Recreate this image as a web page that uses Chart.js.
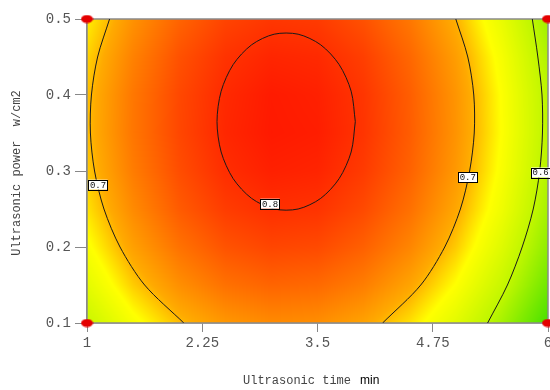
<!DOCTYPE html>
<html><head><meta charset="utf-8">
<script src="https://cdn.jsdelivr.net/npm/chart.js@4.4.1/dist/chart.umd.min.js"></script>
<style>html,body{margin:0;padding:0;background:#fff}#wrap{width:550px;height:390px;position:relative}</style>
</head><body><div id="wrap"><canvas id="c" width="550" height="390"></canvas></div>
<script>
// ---- data ----
const xTicks = [1, 2.25, 3.5, 4.75, 6];
const yTicks = [0.1, 0.2, 0.3, 0.4, 0.5];
const xTitle = 'Ultrasonic time';
const xUnit = 'min';
const yTitle = 'Ultrasonic power  w/cm2';

// response surface sampled on a grid (rows bottom -> top)
const gridX = [1, 1.5, 2, 2.5, 3, 3.5, 4, 4.5, 5, 5.5, 6];
const gridY = [0.1, 0.15, 0.2, 0.25, 0.3, 0.35, 0.4, 0.45, 0.5];
const gridZ = [
  [0.611, 0.660, 0.697, 0.720, 0.730, 0.727, 0.711, 0.681, 0.638, 0.582, 0.512],
  [0.640, 0.690, 0.726, 0.750, 0.760, 0.756, 0.740, 0.710, 0.667, 0.611, 0.542],
  [0.663, 0.713, 0.749, 0.773, 0.783, 0.780, 0.763, 0.734, 0.691, 0.634, 0.565],
  [0.680, 0.730, 0.767, 0.790, 0.800, 0.797, 0.780, 0.751, 0.708, 0.652, 0.582],
  [0.691, 0.741, 0.777, 0.801, 0.811, 0.808, 0.791, 0.762, 0.719, 0.662, 0.593],
  [0.696, 0.746, 0.782, 0.806, 0.816, 0.813, 0.796, 0.766, 0.723, 0.667, 0.598],
  [0.695, 0.745, 0.781, 0.804, 0.815, 0.811, 0.795, 0.765, 0.722, 0.666, 0.597],
  [0.687, 0.737, 0.774, 0.797, 0.807, 0.804, 0.788, 0.758, 0.715, 0.659, 0.589],
  [0.674, 0.724, 0.760, 0.784, 0.794, 0.791, 0.774, 0.745, 0.702, 0.645, 0.576]
];

// contour lines
const c08X = [3.91, 3.865, 3.735, 3.535, 3.29, 3.03, 2.785, 2.585, 2.455, 2.41, 2.455, 2.585, 2.785, 3.03, 3.29, 3.535, 3.735, 3.865, 3.91];
const c08Y = [0.365, 0.405, 0.44, 0.466, 0.48, 0.48, 0.466, 0.44, 0.405, 0.365, 0.325, 0.29, 0.264, 0.25, 0.25, 0.264, 0.29, 0.325, 0.365];
const contourY = [0.1, 0.15, 0.2, 0.25, 0.3, 0.35, 0.4, 0.45, 0.5];
const c07LeftX = [2.05, 1.625, 1.358, 1.184, 1.082, 1.037, 1.048, 1.115, 1.245];
const c07RightX = [4.206, 4.62, 4.88, 5.05, 5.15, 5.2, 5.195, 5.13, 5.0];
const c06X = [5.345, 5.56, 5.72, 5.84, 5.91, 5.94, 5.935, 5.89, 5.83];

// contour labels
const labelText = ['0.8', '0.7', '0.7', '0.6'];
const labelX = [2.985, 1.12, 5.13, 5.92];
const labelY = [0.257, 0.282, 0.292, 0.298];

// design points
const designX = [1, 1, 6, 6];
const designY = [0.1, 0.5, 0.1, 0.5];

// ---- helpers ----
const pts = (xs, ys) => xs.map((v, i) => ({x: v, y: ys[i]}));

function bilinear(vx, vy) {
  let i = 0; while (i < gridX.length - 2 && vx > gridX[i + 1]) i++;
  let j = 0; while (j < gridY.length - 2 && vy > gridY[j + 1]) j++;
  let tx = (vx - gridX[i]) / (gridX[i + 1] - gridX[i]);
  let ty = (vy - gridY[j]) / (gridY[j + 1] - gridY[j]);
  tx = Math.max(0, Math.min(1, tx)); ty = Math.max(0, Math.min(1, ty));
  const a = gridZ[j][i], b = gridZ[j][i + 1], c = gridZ[j + 1][i], d = gridZ[j + 1][i + 1];
  return (a * (1 - tx) + b * tx) * (1 - ty) + (c * (1 - tx) + d * tx) * ty;
}
const stops = [[0.50, [55, 222, 0]], [0.60, [190, 246, 0]], [0.668, [255, 255, 0]], [0.705, [255, 170, 0]], [0.76, [255, 100, 0]], [0.82, [255, 20, 0]]];
function colorFor(z) {
  if (z <= stops[0][0]) return stops[0][1];
  for (let k = 0; k < stops.length - 1; k++) {
    const [z0, c0] = stops[k], [z1, c1] = stops[k + 1];
    if (z <= z1) { const t = (z - z0) / (z1 - z0); return c0.map((v, n) => v + (c1[n] - v) * t); }
  }
  return stops[stops.length - 1][1];
}

const dot = document.createElement('canvas');
dot.width = 13; dot.height = 9;
(() => { const g = dot.getContext('2d'); g.fillStyle = '#e40000'; g.beginPath(); g.ellipse(6.5, 4.5, 6, 4, 0, 0, Math.PI * 2); g.fill(); })();

const heatPlugin = {
  id: 'heat',
  beforeDatasetsDraw(chart) {
    const {ctx, chartArea: a, scales: {x, y}} = chart;
    const x0 = Math.round(a.left), y0 = Math.round(a.top);
    const w = Math.round(a.right) - x0, h = Math.round(a.bottom) - y0;
    const img = ctx.createImageData(w, h);
    for (let j = 0; j < h; j++) {
      const vy = y.getValueForPixel(y0 + j + 0.5);
      for (let i = 0; i < w; i++) {
        const vx = x.getValueForPixel(x0 + i + 0.5);
        const c = colorFor(bilinear(vx, vy));
        const p = (j * w + i) * 4;
        img.data[p] = c[0]; img.data[p + 1] = c[1]; img.data[p + 2] = c[2]; img.data[p + 3] = 255;
      }
    }
    ctx.putImageData(img, x0, y0);
    ctx.save();
    ctx.strokeStyle = '#8a8a8a'; ctx.lineWidth = 1.5;
    ctx.strokeRect(a.left, a.top, a.right - a.left, a.bottom - a.top);
    ctx.restore();
  },
  afterDatasetsDraw(chart) {
    const {ctx, scales: {x, y}} = chart;
    ctx.save();
    ctx.font = '9px "Liberation Mono"';
    ctx.textAlign = 'center'; ctx.textBaseline = 'middle';
    labelText.forEach((t, i) => {
      const px = x.getPixelForValue(labelX[i]), py = y.getPixelForValue(labelY[i]);
      const tw = ctx.measureText(t).width + 3, th = 10;
      ctx.fillStyle = '#fff'; ctx.fillRect(px - tw / 2, py - th / 2, tw, th);
      ctx.strokeStyle = '#000'; ctx.lineWidth = 1;
      ctx.strokeRect(Math.round(px - tw / 2) + 0.5, Math.round(py - th / 2) + 0.5, Math.round(tw), th);
      ctx.fillStyle = '#111'; ctx.fillText(t, px, py + 0.5);
    });
    ctx.restore();
  },
  afterDraw(chart) {
    const {ctx, chartArea: a} = chart;
    ctx.save();
    ctx.textBaseline = 'middle';
    ctx.font = '12px "Liberation Mono"'; ctx.fillStyle = '#444'; ctx.textAlign = 'left';
    ctx.fillText(xTitle, 243, 381);
    const w = ctx.measureText(xTitle).width;
    ctx.font = '12px "Liberation Sans"'; ctx.fillStyle = '#000';
    ctx.fillText(xUnit, 243 + w + 9, 381);
    ctx.translate(17, (a.top + a.bottom) / 2 + 2);
    ctx.rotate(-Math.PI / 2);
    ctx.font = '12px "Liberation Mono"'; ctx.fillStyle = '#444'; ctx.textAlign = 'center';
    ctx.fillText(yTitle, 0, 0);
    ctx.restore();
  }
};

const lineDs = (data) => ({type: 'scatter', data, showLine: true, borderColor: '#1a1a1a', borderWidth: 1, pointRadius: 0, tension: 0.3, fill: false});

new Chart(document.getElementById('c'), {
  type: 'scatter',
  data: {
    datasets: [
      {data: pts(designX, designY), pointStyle: dot, pointRadius: 6, clip: false, showLine: false},
      lineDs(pts(c08X, c08Y)),
      lineDs(pts(c07LeftX, contourY)),
      lineDs(pts(c07RightX, contourY)),
      lineDs(pts(c06X, contourY))
    ]
  },
  options: {
    responsive: false, animation: false, devicePixelRatio: 1, events: [],
    layout: {autoPadding: false, padding: {top: 19, right: 2, left: 0, bottom: 0}},
    plugins: {legend: {display: false}, tooltip: {enabled: false}},
    scales: {
      x: {
        type: 'linear', min: 1, max: 6,
        afterBuildTicks: s => { s.ticks = xTicks.map(v => ({value: v})); },
        afterFit: s => { s.height = 67; s.paddingLeft = 0; s.paddingRight = 0; },
        ticks: {callback: v => String(v), font: {family: 'Liberation Mono', size: 14}, color: '#555', padding: 3, maxRotation: 0, autoSkip: false},
        grid: {drawOnChartArea: false, drawTicks: true, tickLength: 9, color: '#888'},
        border: {display: true, color: '#888', width: 1.5}
      },
      y: {
        type: 'linear', min: 0.1, max: 0.5,
        afterBuildTicks: s => { s.ticks = yTicks.map(v => ({value: v})); },
        afterFit: s => { s.width = 87; s.paddingTop = 0; s.paddingBottom = 0; },
        ticks: {callback: v => v.toFixed(1), font: {family: 'Liberation Mono', size: 14}, color: '#555', padding: 4, autoSkip: false},
        grid: {drawOnChartArea: false, drawTicks: true, tickLength: 12, color: '#888'},
        border: {display: true, color: '#888', width: 1.5}
      }
    }
  },
  plugins: [heatPlugin]
});
</script>
</body></html>
